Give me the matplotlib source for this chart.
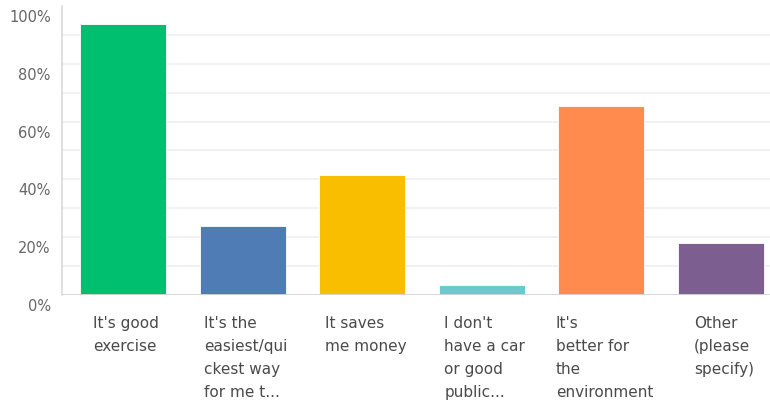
import matplotlib.pyplot as plt
import matplotlib.transforms as mtransforms

answers = [
    "It's good\nexercise",
    "It's the\neasiest/qui\nckest way\nfor me t...",
    "It saves\nme money",
    "I don't\nhave a car\nor good\npublic...",
    "It's\nbetter for\nthe\nenvironment",
    "Other\n(please\nspecify)",
]
percent = [93.8, 24.0, 41.4, 3.6, 65.4, 18.0]
colors = ['#00BF6F', '#507CB6', '#F9BE00', '#6BC8CD', '#FF8B4F', '#7D5E90']

fig = plt.figure(figsize=(7.7, 4.05), dpi=100)
ax = fig.add_axes([0.0805, 0.2709, 0.9195, 0.7151])

x = range(len(percent))
ax.bar(x, percent, width=0.72, color=colors, edgecolor='white', linewidth=0.6, zorder=3)

ax.set_xlim(-0.513, 5.41)
ax.set_ylim(0, 100)

# light horizontal lines every 10%
for v in range(10, 100, 10):
    ax.axhline(v, color='#eeeeee', linewidth=1.1, zorder=1)
ax.axhline(0, color='#d6d6d6', linewidth=1.3, zorder=4)

for s in ['top', 'right', 'bottom']:
    ax.spines[s].set_visible(False)
ax.spines['left'].set_color('#d6d6d6')
ax.spines['left'].set_linewidth(1.1)

ax.set_yticks(range(0, 101, 20))
ax.set_yticklabels(['%d%%' % v for v in range(0, 101, 20)])
ax.tick_params(axis='y', length=0, pad=8, labelsize=10.5, labelcolor='#666666')
offset = mtransforms.ScaledTranslation(0, -10 / 100, fig.dpi_scale_trans)
for lbl in ax.get_yticklabels():
    lbl.set_transform(lbl.get_transform() + offset)

ax.set_xticks(list(x))
ax.set_xticklabels(answers, ha='center', multialignment='left', linespacing=1.65)
ax.tick_params(axis='x', length=0, pad=15, labelsize=11, labelcolor='#4a4a4a')
xoff = mtransforms.ScaledTranslation(3 / 100, 0, fig.dpi_scale_trans)
for lbl in ax.get_xticklabels():
    lbl.set_transform(lbl.get_transform() + xoff)

fig.savefig('out.png', dpi=100)
